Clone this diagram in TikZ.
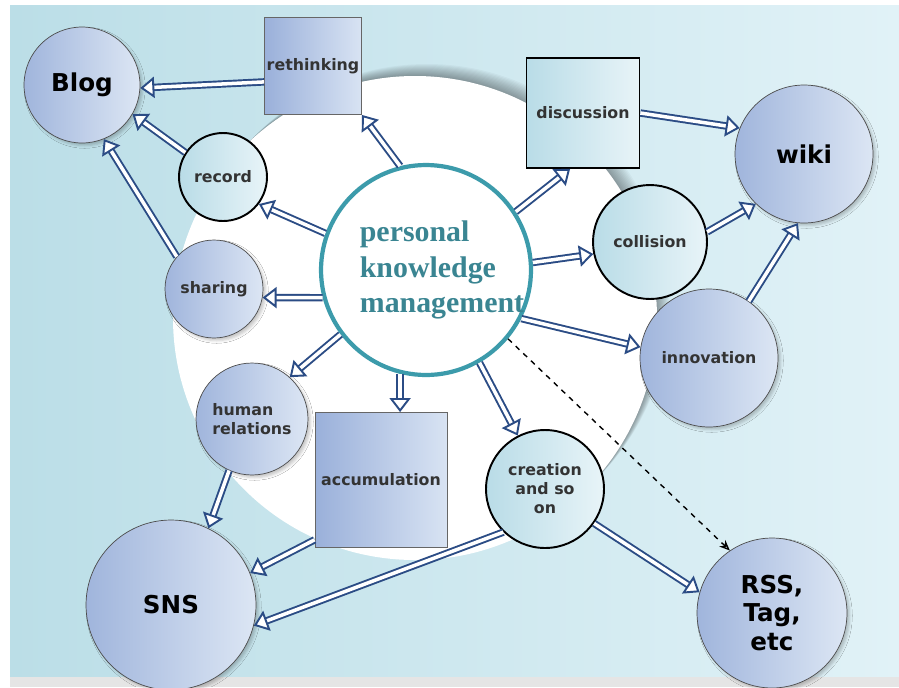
\documentclass[tikz,border=0pt]{standalone}
\usepackage{fontspec}
\setmainfont{DejaVu Sans}
\newfontfamily\pkmfont{Liberation Serif}
\usetikzlibrary{arrows.meta,shadows.blur}
\definecolor{bgL}{HTML}{BBDEE7}
\definecolor{bgR}{HTML}{E1F2F7}
\definecolor{greyL}{HTML}{A0B5DC}
\definecolor{greyR}{HTML}{DCE6F4}
\definecolor{cyanL}{HTML}{B9DCE7}
\definecolor{cyanR}{HTML}{E8F4F8}
\definecolor{sqL}{HTML}{9AB0DA}
\definecolor{sqR}{HTML}{D8E3F3}
\definecolor{arrowblue}{HTML}{2B4C85}
\definecolor{pkmring}{HTML}{3C9BAB}
\definecolor{pkmtext}{HTML}{3A8592}
\begin{document}
\begin{tikzpicture}[x=0.02cm,y=-0.02cm,
		softshadow/.style={blur shadow={shadow xshift=1.5pt,shadow yshift=-1.5pt,shadow blur radius=1.5pt,shadow opacity=22}},
		bigc/.style={circle,draw=black!70,line width=.4pt,left color=greyL,right color=greyR,inner sep=0pt,softshadow,font=\bfseries\fontsize{14}{16}\selectfont},
		midc/.style={circle,draw=black!70,line width=.4pt,left color=greyL,right color=greyR,inner sep=0pt,softshadow,text=black!80,align=center,font=\bfseries\fontsize{9}{10.5}\selectfont},
		lightc/.style={circle,draw=black,line width=1.1pt,left color=cyanL,right color=cyanR,inner sep=0pt,text=black!80,align=center,font=\bfseries\fontsize{9}{10.8}\selectfont},
		sqbox/.style={rectangle,draw=black!60,line width=.5pt,left color=sqL,right color=sqR,inner sep=0pt,text=black!80,font=\bfseries\fontsize{9}{11}\selectfont},
		dbl/.style={draw=arrowblue,line width=1.1pt,double=white,double distance=2pt,-{Triangle[open,length=8pt,width=12pt,fill=white]}}]
	\useasboundingbox (0,0) rectangle (899,687);
	\fill[left color=bgL,right color=bgR] (10,5) rectangle (899,677);
	\fill[black!10] (10,677) rectangle (899,687);
	\foreach \k in {1,...,12}
		\fill[black,opacity=.03] (415+\k,318-\k) circle (242);
	\fill[white] (415,318) circle (242);
	\node[circle,draw=pkmring,line width=2.4pt,fill=white,minimum size=4.2cm] (pkm) at (426,270) {};
	\node[text=pkmtext,align=left,font=\pkmfont\bfseries\fontsize{17}{20}\selectfont] (pkmlabel) at (442,270) {personal\\knowledge\\management};
	\node[bigc,minimum size=2.32cm] (blog) at (82,85) {Blog};
	\node[bigc,minimum size=2.76cm] (wiki) at (804,154) {wiki};
	\node[bigc,minimum size=3.4cm] (sns) at (171,605) {SNS};
	\node[bigc,minimum size=3cm,align=center] (rss) at (772,613) {RSS,\\Tag,\\etc};
	\node[midc,minimum size=1.96cm] (sharing) at (214,289) {sharing};
	\node[midc,minimum size=2.24cm,align=left] (human) at (252,419) {human\\relations};
	\node[midc,minimum size=2.76cm] (innovation) at (709,358) {innovation};
	\node[lightc,minimum size=1.76cm] (record) at (223,177) {record};
	\node[lightc,minimum size=2.28cm] (collision) at (650,242) {collision};
	\node[lightc,minimum size=2.36cm] (creation) at (545,489) {creation\\and so\\on};
	\node[sqbox,minimum size=1.94cm] (rethinking) at (313,66) {rethinking};
	\node[sqbox,minimum width=2.64cm,minimum height=2.7cm] (accumulation) at (381,480) {accumulation};
	\node[sqbox,draw=black,line width=1pt,left color=cyanL,right color=cyanR,minimum width=2.26cm,minimum height=2.2cm] (discussion) at (583,113) {discussion};
	\foreach \a/\b in {pkm.104/rethinking.south east,pkm.160/record.-37,pkm.195/sharing.-10,pkm.217/human.48,
		pkm.300/creation.117,pkm.33/discussion.-103,pkm.4/collision.192,pkm.333/innovation.171,
		rethinking.198/blog.-3,record.147/blog.-30,sharing.139/blog.-68,
		discussion.east/wiki.158,collision.10/wiki.226,innovation.55/wiki.265,
		human.246/sns.64,accumulation.222/sns.22,creation.226/sns.-14,creation.-35/rss.164}
		\draw[dbl] (\a) -- (\b);
	\draw[dbl] (pkm.256) -- (pkm.256 |- accumulation.north);
	\draw[dashed,line width=.8pt,-{Stealth[length=6pt,width=5pt,open]}] (pkm.320) -- (rss.124);
\end{tikzpicture}
\end{document}
